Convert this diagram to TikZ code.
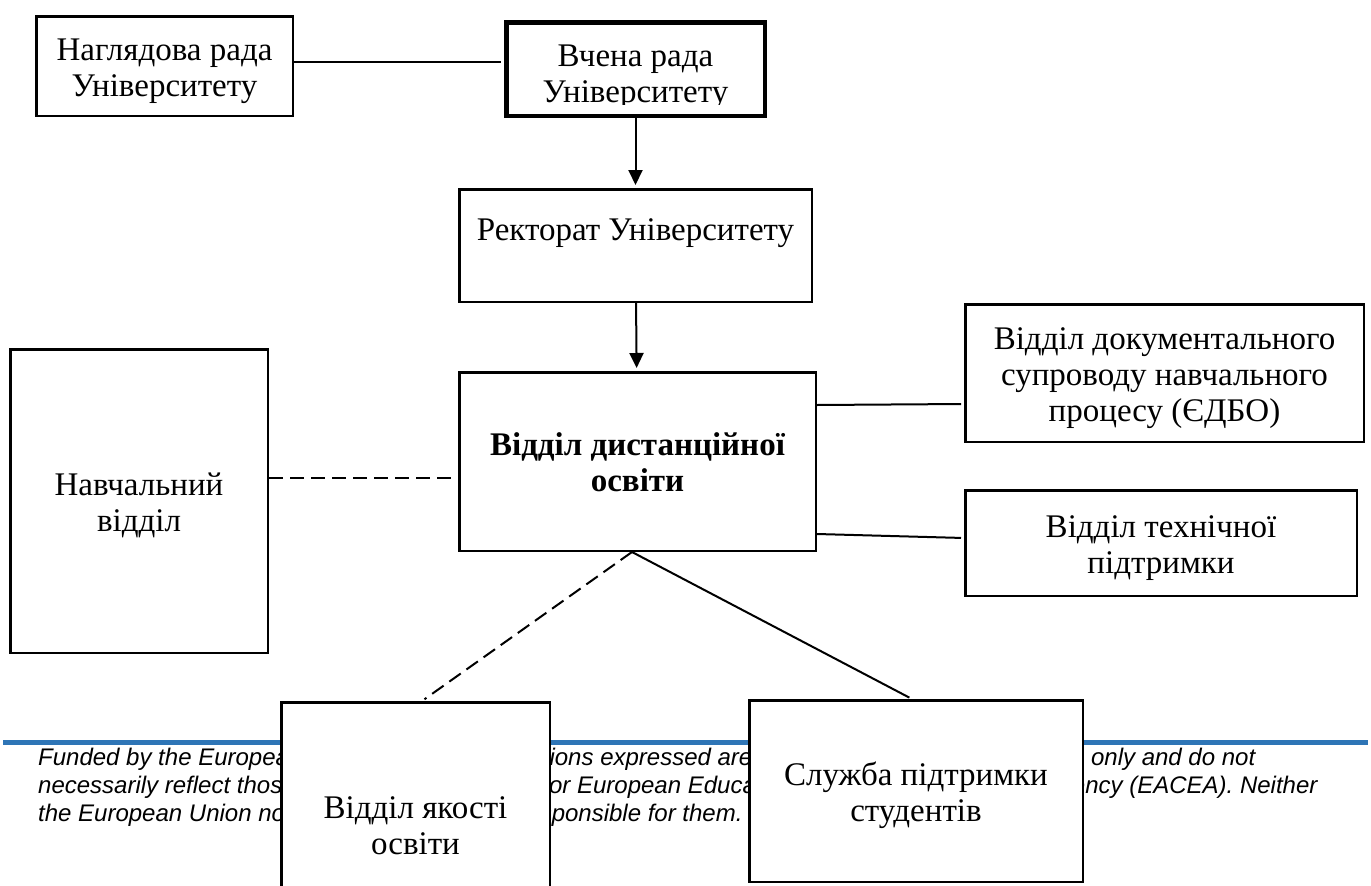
\documentclass[tikz,border=0pt]{standalone}
\usepackage{fontspec}
\setmainfont{Liberation Serif}
\newfontfamily\notefont{Liberation Sans}
\usetikzlibrary{positioning,arrows.meta}
\definecolor{eublue}{RGB}{46,117,182}
\newcommand{\topstrut}{\rule{0pt}{32pt}}
\newcommand{\botstrut}{\rule[-8pt]{0pt}{8pt}}
\tikzstyle{unit}=[draw,rectangle,fill=white,line width=2.5pt,inner sep=0pt,
  align=center,font=\fontsize{33}{36}\selectfont]
\tikzstyle{link}=[line width=2pt]
\tikzstyle{dashline}=[dash pattern=on 14pt off 7pt]
\newcommand{\newUnit}[4]{\node[unit,#3](#1) at (#4) {\topstrut#2\botstrut};}
\newcommand{\newLink}[3]{\draw[link,#3] (#1) -- (#2);}

\begin{document}
\begin{tikzpicture}[x=1pt,y=-1pt,
    >={Triangle[width=14pt,length=15pt]},shorten >=3pt
    ]
    \useasboundingbox (0,0) rectangle (1371,886);
    \clip (0,0) rectangle (1371,886);
    % footer under the boxes
    \draw[eublue,line width=5pt] (3,742.5) -- (1371,742.5);
    \node[anchor=north west,inner sep=0pt,align=left,
      font=\notefont\itshape\fontsize{24}{28}\selectfont] (note) at (38,748)
      {Funded by the European Union. Views and opinions expressed are however those of the author(s) only and do not\\
       necessarily reflect those of the European Union or European Education and Culture Executive Agency (EACEA). Neither\\
       the European Union nor EACEA can be held responsible for them.};
    % boxes
    \newUnit{board}{Наглядова рада\\Університету}{minimum width=256.5pt,minimum height=99.5pt}{164.5,66}
    \newUnit{council}{}{line width=4.5pt,minimum width=258.5pt,minimum height=93.5pt}{635.5,69}
    \begin{scope}
      \clip (council.north west) rectangle ([yshift=13.25pt]council.south east);
      \node[unit,draw=none,fill=none] (council-text) at ([yshift=-3.4pt]council.center) {\topstrut Вчена рада\\Університету\botstrut};
    \end{scope}
    \newUnit{rector}{Ректорат Університету}{minimum width=352.5pt,minimum height=112.5pt,
      text height=23pt,text depth=34pt}{635.5,245.5}
    \newUnit{dist}{Відділ дистанційної\\освіти}{font=\fontsize{33}{36}\selectfont\bfseries,
      minimum width=356.5pt,minimum height=178.5pt}{637.5,461.5}
    \newUnit{study}{Навчальний\\відділ}{minimum width=257.5pt,minimum height=303.5pt}{139,501}
    \newUnit{docs}{Відділ документального\\супроводу навчального\\процесу (ЄДБО)}{minimum width=398.5pt,minimum height=137.5pt}{1164.5,373}
    \newUnit{tech}{Відділ технічної\\підтримки}{minimum width=391.5pt,minimum height=105.5pt}{1161,543}
    \newUnit{quality}{Відділ якості\\освіти}{minimum width=268.5pt,minimum height=244.5pt}{415.5,824.5}
    \newUnit{service}{Служба підтримки\\студентів}{minimum width=333.5pt,minimum height=181.5pt}{916,791}
    % connectors
    \newLink{[yshift=4pt]board.east}{[yshift=7pt]council.west}{}
    \newLink{council}{rector}{->}
    \newLink{rector}{dist}{->}
    \newLink{[yshift=23pt]study.east}{[yshift=-16.5pt]dist.west}{dashline}
    \newLink{[yshift=56.5pt]dist.east}{[yshift=-31pt]docs.west}{}
    \newLink{[yshift=-72.5pt]dist.east}{[yshift=5pt]tech.west}{}
    \newLink{[xshift=-5.5pt]dist.south}{[xshift=6.5pt]quality.north}{dashline}
    \newLink{[xshift=-5.5pt]dist.south}{[xshift=-4pt]service.north}{}
  \end{tikzpicture}
\end{document}
